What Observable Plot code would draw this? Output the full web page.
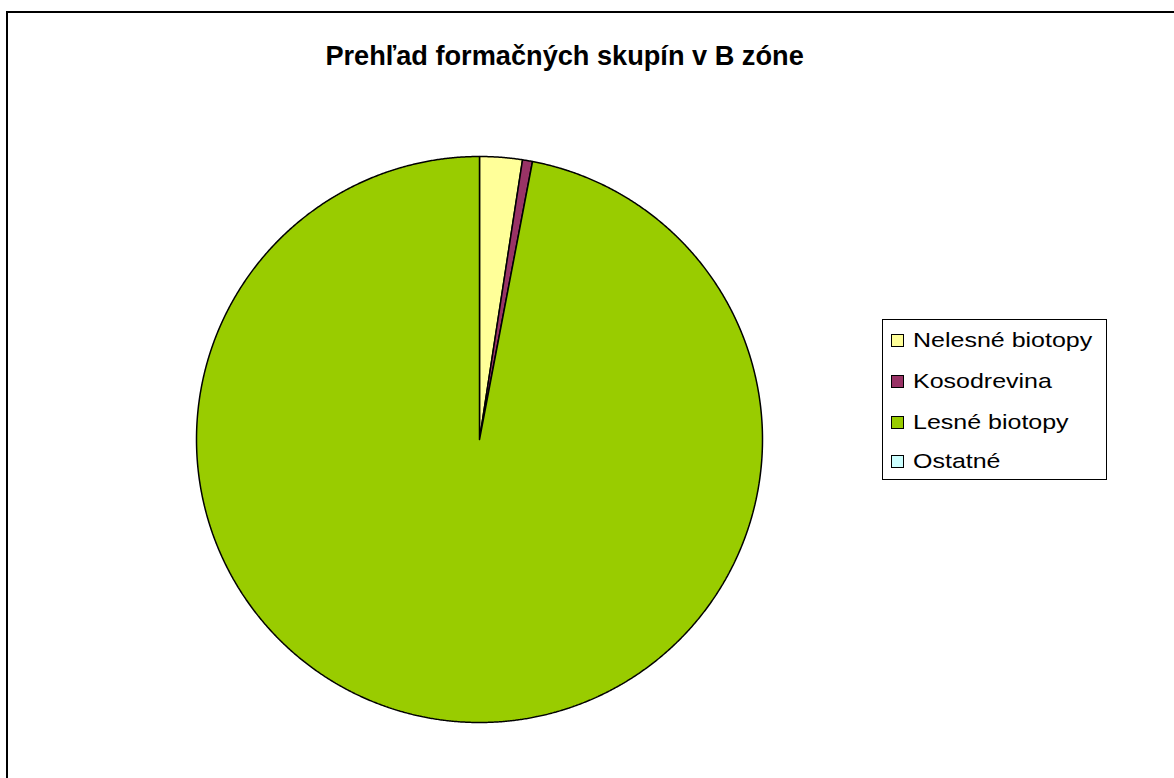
<!DOCTYPE html>
<html>
<head>
<meta charset="utf-8">
<script src="https://cdn.jsdelivr.net/npm/d3@7"></script>
<script src="https://cdn.jsdelivr.net/npm/@observablehq/plot@0.6"></script>
<style>
  html, body { margin: 0; padding: 0; background: #fff; }
  body { width: 1174px; height: 778px; overflow: hidden; position: relative; font-family: "Liberation Sans", Arial, sans-serif; }
  #frame { position: absolute; left: 6px; top: 11px; width: 1300px; height: 900px; border-left: 2px solid #000; border-top: 2px solid #000; box-sizing: border-box; }
  #title { position: absolute; left: 0; width: 1130px; top: 40px; text-align: center; font-weight: bold; font-size: 28px; line-height: 32px; color: #000; }
  #title span { display: inline-block; transform: scaleX(0.97); }
  #chart { position: absolute; left: 0; top: 0; }
  #legend { position: absolute; left: 882px; top: 319px; width: 225px; height: 161px; border: 1px solid #000; box-sizing: border-box; background: #fff; }
  .txt { position: absolute; left: 30px; height: 24px; font-size: 21px; line-height: 24px; color: #000; white-space: nowrap; transform: scaleX(1.19); transform-origin: 0 0; }
  .sw { position: absolute; left: 8px; width: 13px; height: 13px; border: 1px solid #000; box-sizing: border-box; }
</style>
</head>
<body>
<div id="frame"></div>
<div id="chart"></div>
<div id="title"><span>Prehľad formačných skupín v B zóne</span></div>
<div id="legend"></div>
<script>
const categories = ["Nelesné biotopy", "Kosodrevina", "Lesné biotopy", "Ostatné"];
const values = [2.43, 0.57, 97.0, 0.0];
const colors = ["#FFFF99", "#993366", "#99CC00", "#CCFFFF"];

const total = d3.sum(values);
const pts = [];
let start = 0;
categories.forEach((c, i) => {
  const v = values[i];
  if (v <= 0) { return; }
  const a0 = start / total * 2 * Math.PI;
  const a1 = (start + v) / total * 2 * Math.PI;
  start += v;
  const n = Math.max(2, Math.ceil((a1 - a0) / (Math.PI / 720)));
  pts.push({cat: c, x: 0, y: 0});
  for (let k = 0; k <= n; k++) {
    const a = a0 + (a1 - a0) * k / n;
    pts.push({cat: c, x: Math.sin(a), y: Math.cos(a)});
  }
  pts.push({cat: c, x: 0, y: 0});
});

const plot = Plot.plot({
  width: 1174,
  height: 778,
  marginLeft: 196,
  marginRight: 412,
  marginTop: 156,
  marginBottom: 56,
  x: {domain: [-1, 1], axis: null},
  y: {domain: [-1, 1], axis: null},
  color: {domain: categories, range: colors},
  style: {background: "transparent", overflow: "visible"},
  marks: [
    Plot.line(pts, {x: "x", y: "y", z: "cat", fill: "cat", stroke: "#000", strokeWidth: 1.5, strokeLinejoin: "miter", curve: "linear"})
  ]
});
document.getElementById("chart").appendChild(plot);

const legend = document.getElementById("legend");
const baselines = [27, 68, 109, 148];
categories.forEach((c, i) => {
  const s = document.createElement("div");
  s.className = "sw";
  s.style.top = (baselines[i] - 13) + "px";
  s.style.background = colors[i];
  legend.appendChild(s);
  const t = document.createElement("div");
  t.className = "txt";
  t.style.left = "30px";
  t.style.top = (baselines[i] - 19) + "px";
  t.textContent = c;
  legend.appendChild(t);
});
</script>
</body>
</html>
